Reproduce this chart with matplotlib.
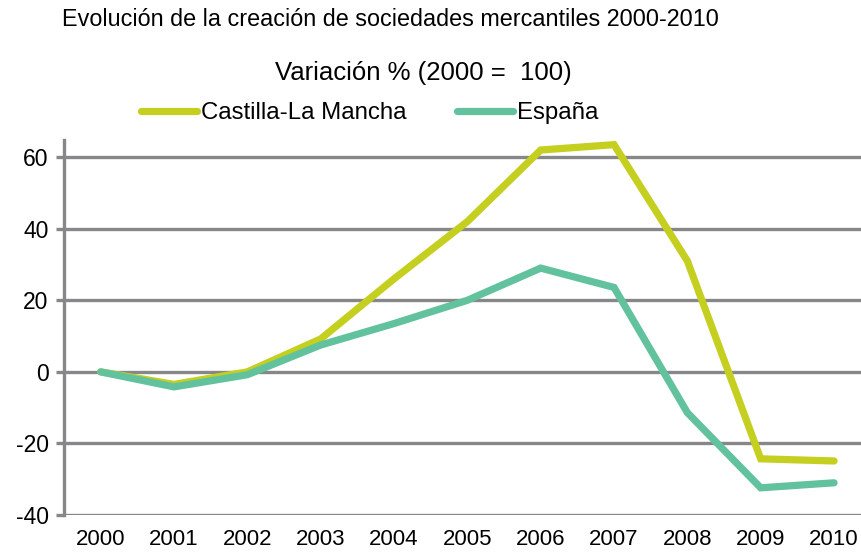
import numpy as np
import matplotlib.pyplot as plt

# data
years = ['2000', '2001', '2002', '2003', '2004', '2005',
         '2006', '2007', '2008', '2009', '2010']
clm = [0, -3.5, 0, 9.2, 26, 42, 62, 63.5, 31, -24.3, -24.9]
espana = [0, -4.2, -0.8, 7.5, 13.5, 20, 29, 23.6, -11.4, -32.4, -31]
yticks = [-40, -20, 0, 20, 40, 60]

plt.rcParams['font.family'] = ['Liberation Sans', 'DejaVu Sans']

W, H = 862, 555
fig = plt.figure(figsize=(W / 100, H / 100), dpi=100)
# axes box in pixels: left 64, right ~871 (past the edge), top 140, bottom 515
ax = fig.add_axes([64 / W, (H - 515) / H, (870.7 - 64) / W, (515 - 140) / H])

grey = '#87878a'
x = np.arange(len(years))
ax.plot(x, clm, color='#c4cf1f', lw=5.2, solid_capstyle='round',
        solid_joinstyle='miter', label='Castilla-La Mancha', zorder=3)
ax.plot(x, espana, color='#62c29e', lw=5.2, solid_capstyle='round',
        solid_joinstyle='miter', label='España', zorder=3)

ax.set_xlim(-0.5, 10.5)
ax.set_ylim(-40, 64.8)
ax.set_yticks(yticks)
ax.set_yticklabels([str(v) for v in yticks], fontsize=16.5)
ax.set_xticks(x)
ax.set_xticklabels(years, fontsize=16)

for v in yticks:
    ax.axhline(v, color=grey, lw=2.4, zorder=1)

for s in ['top', 'right', 'bottom']:
    ax.spines[s].set_visible(False)
ax.spines['left'].set_color(grey)
ax.spines['left'].set_linewidth(2.4)
ax.tick_params(axis='y', length=6, width=2.4, color=grey, pad=5)
ax.tick_params(axis='x', length=0, pad=10)

fig.text(62 / W, 1 - 20 / H, 'Evolución de la creación de sociedades mercantiles 2000-2010',
         fontsize=16.8, va='center', ha='left')
fig.text(423 / W, 1 - 73 / H, 'Variación % (2000 =  100)',
         fontsize=18.5, va='center', ha='center')

fig.legend(loc='center', bbox_to_anchor=(370 / W, 1 - 113 / H), ncol=2,
           frameon=False, fontsize=17.3, handlelength=2.3, handletextpad=0.2,
           columnspacing=2.1)

fig.savefig('out.png', dpi=100)
